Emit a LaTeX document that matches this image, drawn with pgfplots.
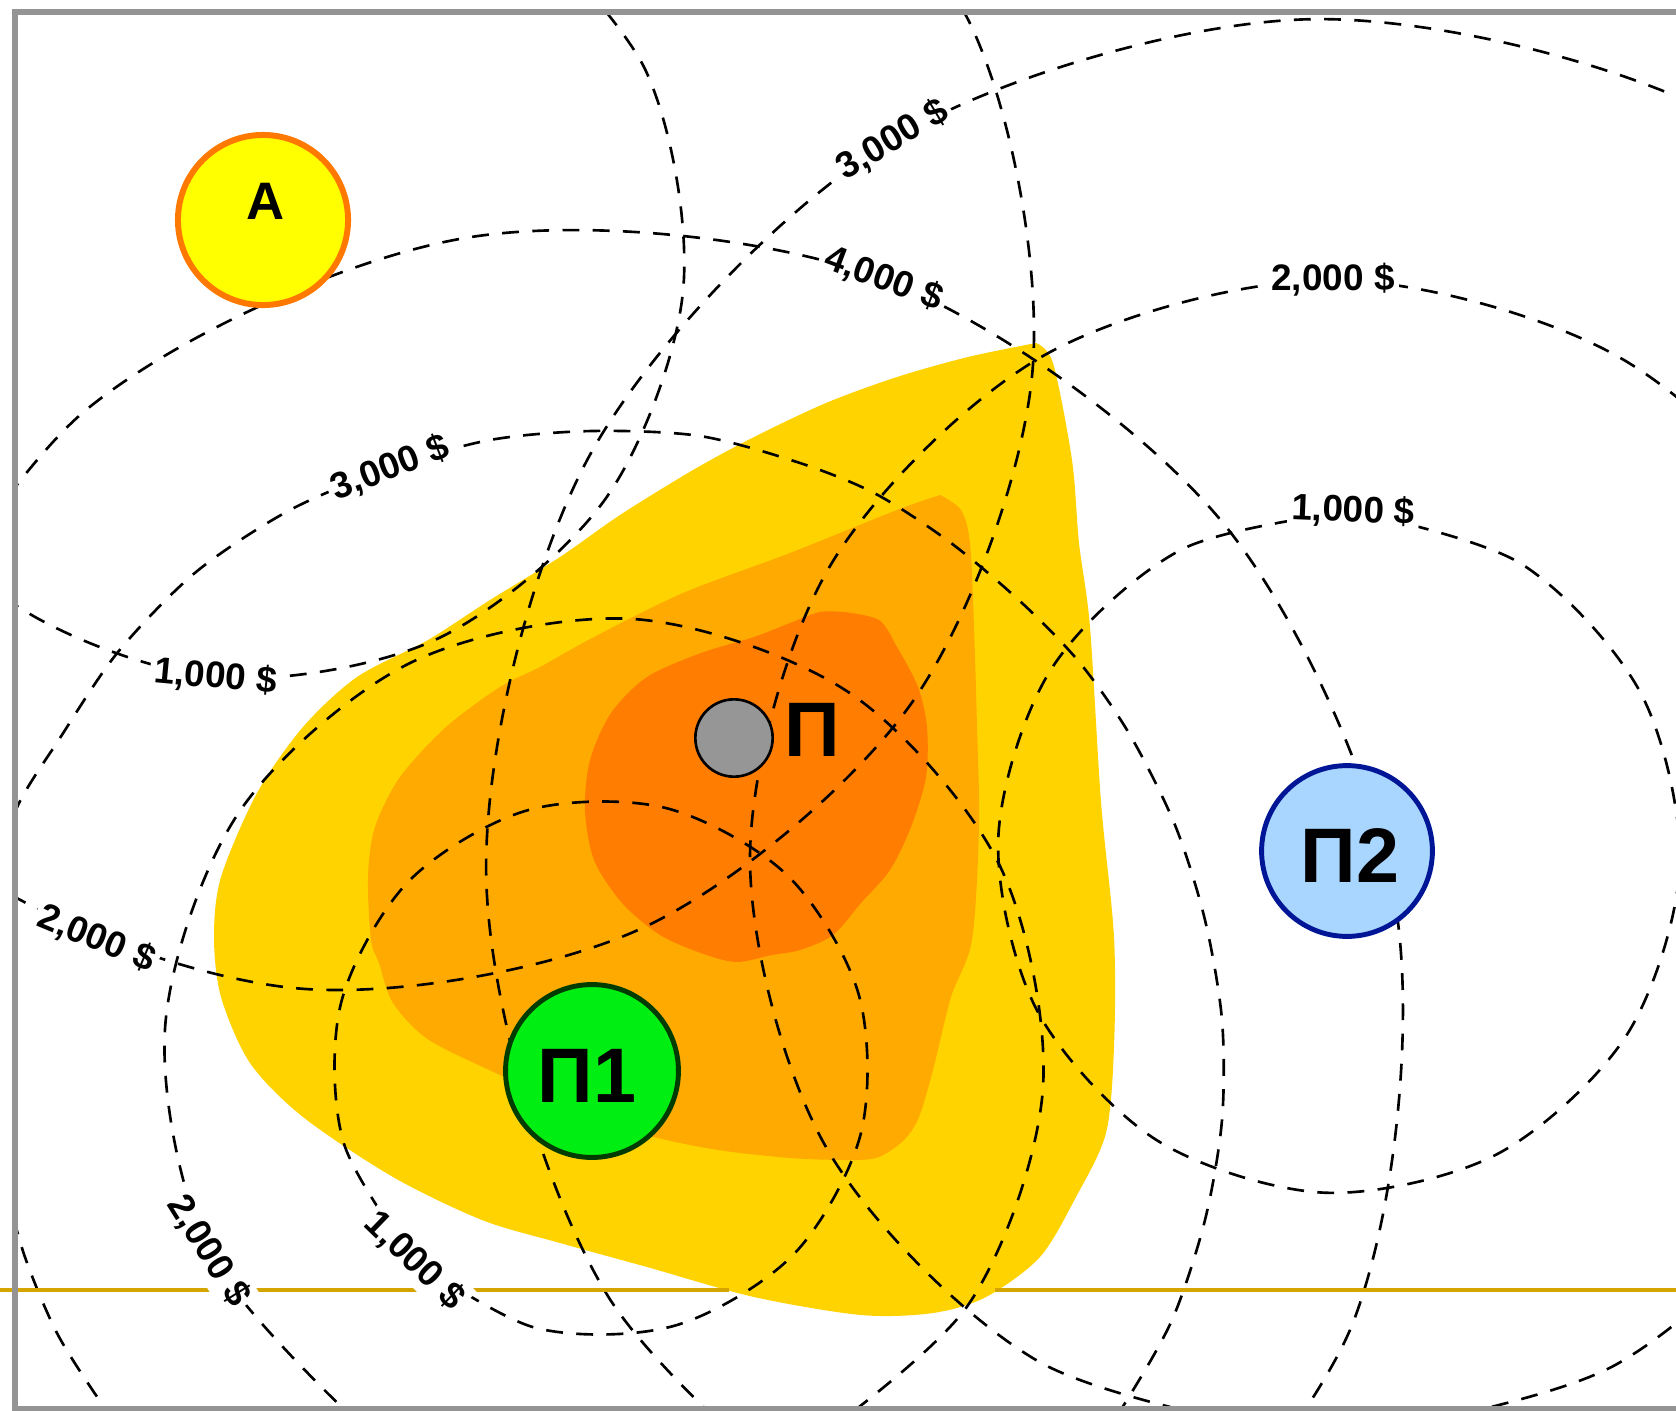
\documentclass[border=0pt]{standalone}
\usepackage{fontspec}
\setmainfont{Liberation Sans}
\usepackage{pgfplots}
\pgfplotsset{compat=1.18}
\definecolor{cYel}{RGB}{255,211,0}
\definecolor{cOra}{RGB}{255,170,0}
\definecolor{cDOr}{RGB}{255,125,0}
\definecolor{cAfill}{RGB}{255,255,0}
\definecolor{cAline}{RGB}{255,120,0}
\definecolor{cPonefill}{RGB}{0,238,17}
\definecolor{cPoneline}{RGB}{0,60,0}
\definecolor{cPtwofill}{RGB}{168,214,255}
\definecolor{cPtwoline}{RGB}{0,22,150}
\definecolor{cPfill}{RGB}{150,150,150}
\definecolor{cGold}{RGB}{212,165,0}
\definecolor{cFrame}{RGB}{148,148,148}
\begin{document}
\begin{tikzpicture}[
  iso/.style={black, line width=0.75pt, dash pattern=on 4.8pt off 3.8pt},
  lbl/.style={font=\fontsize{10.5}{12}\selectfont\bfseries, fill=white, inner sep=1.2pt},
  big/.style={font=\fontsize{22}{24}\selectfont\bfseries, inner sep=0pt}]
\begin{axis}[
  scale only axis, width=16.76cm, height=14.11cm,
  xmin=0, xmax=1676, ymin=0, ymax=1411, y dir=reverse,
  hide axis, clip=true, clip marker paths=true]

% --- cost zones ---
\addplot[fill=cYel, draw=none, smooth, tension=0.5] coordinates {
(1036,343) (968,357) (897,377) (826,403) (754,437) (693,470) (620,515) (560,557) (490,600) (428,640) (357,677) (303,727) (257,793) (221,877) (214,937) (221,997) (250,1063) (303,1117) (393,1177) (482,1220) (560,1243) (647,1267) (754,1297) (861,1315) (933,1313) (986,1297) (1040,1257) (1076,1197) (1106,1133) (1114,1047) (1114,937) (1101,802) (1090,627) (1079,543) (1072,460) (1053,363) (1036,343)} -- cycle;
\addplot[fill=cOra, draw=none, smooth, tension=0.5] coordinates {
(940,495) (897,510) (790,553) (683,593) (594,637) (540,667) (500,687) (446,727) (400,777) (375,827) (368,877) (371,940) (379,963) (393,1003) (429,1040) (504,1077) (580,1115) (654,1137) (718,1150) (790,1158) (850,1160) (879,1157) (904,1140) (919,1117) (933,1070) (951,997) (972,940) (979,827) (977,727) (974,627) (970,543) (961,510) (940,495)} -- cycle;
\addplot[fill=cDOr, draw=none, smooth, tension=0.5] coordinates {
(844,612) (879,620) (897,647) (918,687) (927,727) (926,777) (911,827) (890,870) (861,903) (833,935) (800,950) (772,955) (736,962) (701,953) (660,935) (622,903) (594,860) (585,810) (590,760) (611,713) (647,677) (701,653) (754,637) (790,623) (820,612) (844,612)} -- cycle;

% --- isolines around A ---
\addplot[iso, smooth, tension=0.53] coordinates {(504.5,-99.7) (646.1,71.4) (683.1,290.4) (605.7,498.5) (434.6,640.1) (215.6,677.1) (7.5,599.7) (-134.1,428.6)};
\addplot[iso, smooth, tension=0.53] coordinates {(745.9,-242.4) (971.5,26.5) (1032.4,372.1) (912.4,701.9) (643.5,927.5) (297.9,988.4) (-31.9,868.4) (-257.5,599.5)};
% --- isolines around P1 ---
\addplot[iso, smooth, tension=0.53] coordinates {(414.8,1260.8) (343.4,1141.9) (341.0,1003.2) (408.2,881.8) (527.1,810.4) (665.8,808.0) (787.2,875.2) (858.6,994.1) (861.0,1132.8) (793.8,1254.2) (674.9,1325.6) (536.2,1328.0) (414.8,1260.8)};
\addplot[iso, smooth, tension=0.53] coordinates {(358.0,1422.8) (208.5,1250.9) (165.1,1027.3) (239.2,812.0) (411.1,662.5) (634.7,619.1) (850.0,693.2) (999.5,865.1) (1042.9,1088.7) (968.8,1304.0) (796.9,1453.5)};
\addplot[iso, smooth, tension=0.5] coordinates {(150,1470) (104,1407) (58,1335) (26,1260) (10,1200) (-5,1100) (-10,1010) (-5,900) (15,812) (60,738) (118,652) (196,572) (290,510) (390,468) (490,440) (592,431) (700,436) (800,463) (876,494) (951,543) (1022,603) (1080,663) (1130,735) (1175,825) (1205,920) (1222,1020) (1222,1120) (1205,1220) (1172,1320) (1122,1408) (1085,1460)};
\addplot[iso, smooth, tension=0.53] coordinates {(-157.8,749.4) (86.2,409.8) (467.4,237.6) (883.6,279.2) (1223.2,523.2) (1395.4,904.4) (1353.8,1320.6) (1109.8,1660.2)};
% --- isolines around P2 ---
\addplot[iso, smooth, tension=0.53] coordinates {(1353.3,511.3) (1521.7,564.1) (1641.2,694.0) (1679.7,866.3) (1626.9,1034.7) (1497.0,1154.2) (1324.7,1192.7) (1156.3,1139.9) (1036.8,1010.0) (998.3,837.7) (1051.1,669.3) (1181.0,549.8) (1353.3,511.3)};
\addplot[iso, smooth, tension=0.53] coordinates {(1327.0,1440.0) (1037.4,1360.8) (826.2,1147.4) (750.0,857.0) (829.2,567.4) (1042.6,356.2) (1333.0,280.0) (1622.6,359.2) (1833.8,572.6) (1910.0,863.0) (1830.8,1152.6) (1617.4,1363.8) (1327.0,1440.0)};
\addplot[iso, smooth, tension=0.53] coordinates {(920.5,1596.3) (606.9,1294.4) (486.2,876.1) (590.7,453.5) (892.6,139.9) (1310.9,19.2) (1733.5,123.7) (2047.2,425.6)};

% --- margins outside the frame ---
\addplot[fill=white, draw=none] coordinates {(0,0) (13,0) (13,1411) (0,1411)} -- cycle;
\addplot[fill=white, draw=none] coordinates {(0,0) (1676,0) (1676,10) (0,10)} -- cycle;
\addplot[fill=white, draw=none] coordinates {(0,1410) (1676,1410) (1676,1411) (0,1411)} -- cycle;

% --- golden line ---
\addplot[cGold, line width=1.3pt] coordinates {(0,1290) (729,1290)};
\addplot[cGold, line width=1.3pt] coordinates {(995,1290) (1676,1290)};

% --- isoline labels ---
\node[lbl, rotate=31] at (axis cs:892.6,139.9) {3,000 \$};
\node[lbl, rotate=-20.7] at (axis cs:883.6,279.2) {4,000 \$};
\node[lbl] at (axis cs:1333,280) {2,000 \$};
\node[lbl, rotate=21] at (axis cs:390,468) {3,000 \$};
\node[lbl, rotate=-2.4] at (axis cs:1353.3,511.3) {1,000 \$};
\node[lbl, rotate=-5.4] at (axis cs:215.6,677.1) {1,000 \$};
\node[lbl, rotate=-22.6] at (axis cs:96.4,938.9) {2,000 \$};
\node[lbl, rotate=-58] at (axis cs:208.5,1250.9) {2,000 \$};
\node[lbl, rotate=-44] at (axis cs:414.8,1260.8) {1,000 \$};

% --- points ---
\addplot[only marks, mark=*, mark size=24.2pt, mark options={fill=cAfill, draw=cAline, line width=1.7pt}] coordinates {(263,220)};
\addplot[only marks, mark=*, mark size=11pt, mark options={fill=cPfill, draw=black, line width=0.75pt}] coordinates {(734,738)};
\addplot[only marks, mark=*, mark size=24.6pt, mark options={fill=cPonefill, draw=cPoneline, line width=1.4pt}] coordinates {(592,1071)};
\addplot[only marks, mark=*, mark size=24.3pt, mark options={fill=cPtwofill, draw=cPtwoline, line width=1.4pt}] coordinates {(1347,851)};

\node[font=\fontsize{15}{16}\selectfont\bfseries, inner sep=0pt] at (axis cs:266,201) {А};
\node[big] at (axis cs:812,730) {П};
\node[big] at (axis cs:587,1076) {П1};
\node[big] at (axis cs:1350,855) {П2};

% --- frame ---
\addplot[cFrame, line width=1.55pt] coordinates {(1676,12) (15,12) (15,1408.5) (1676,1408.5)};
\end{axis}
\end{tikzpicture}
\end{document}
